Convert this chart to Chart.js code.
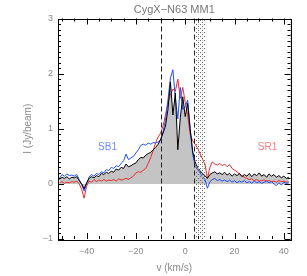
<!DOCTYPE html>
<html>
<head>
<meta charset="utf-8">
<script src="https://cdn.jsdelivr.net/npm/chart.js@4"></script>
<style>
  html, body { margin: 0; padding: 0; background: #fff; }
</style>
</head>
<body>
<canvas id="spec" width="307" height="276"></canvas>
<script>
// velocity channels (km/s)
var velocity = [-51,-50,-49,-48,-47,-46,-45,-44,-43,-42,
  -41,-40,-39,-38,-37,-36,-35,-34,-33,-32,
  -31,-30,-29,-28,-27,-26,-25,-24,-23,-22,
  -21,-20,-19,-18,-17,-16,-15,-14,-13,-12,
  -11,-10,-9,-8,-7,-6,-5,-4,-3,-2,
  -1,0,1,2,3,4,5,6,7,8,
  9,10,11,12,13,14,15,16,17,18,
  19,20,21,22,23,24,25,26,27,28,
  29,30,31,32,33,34,35,36,37,38,
  39,40,41,42];

// central spectrum (black, filled)
var centre = [0.08,0.12,0.10,0.13,0.09,0.12,0.11,0.13,0.06,0.00,
  -0.09,0.02,0.10,0.13,0.11,0.15,0.13,0.19,0.17,0.21,
  0.19,0.23,0.21,0.27,0.25,0.30,0.28,0.36,0.31,0.33,
  0.36,0.38,0.44,0.48,0.47,0.52,0.55,0.57,0.62,0.66,
  0.72,0.80,0.92,1.05,1.35,1.85,1.25,1.65,0.62,1.20,
  1.58,1.22,1.46,1.00,0.60,0.40,0.30,0.24,0.19,0.15,
  0.10,0.17,0.20,0.22,0.18,0.20,0.17,0.21,0.16,0.19,
  0.14,0.18,0.15,0.19,0.13,0.17,0.14,0.19,0.13,0.18,
  0.15,0.20,0.14,0.17,0.12,0.18,0.14,0.17,0.12,0.15,
  0.11,0.14,0.10,0.12];

// SB1 position (blue)
var sb1 = [0.10,0.17,0.14,0.18,0.15,0.16,0.14,0.17,0.08,-0.02,
  -0.13,0.00,0.12,0.17,0.14,0.19,0.17,0.22,0.20,0.26,
  0.24,0.30,0.28,0.33,0.31,0.37,0.42,0.54,0.44,0.47,
  0.50,0.56,0.62,0.70,0.72,0.70,0.74,0.72,0.75,0.74,
  0.76,0.80,0.95,1.15,1.52,1.92,2.07,1.55,1.18,1.75,
  1.35,1.40,1.52,1.00,0.55,0.32,0.26,0.20,0.13,0.08,
  -0.08,0.04,0.08,0.10,0.06,0.08,0.05,0.07,0.04,0.07,
  0.03,0.06,0.02,0.05,0.03,0.06,0.02,0.04,0.01,0.05,
  0.02,0.04,0.01,0.03,0.05,0.02,0.04,0.00,-0.03,0.02,
  -0.02,0.03,0.01,0.02];

// SR1 position (red)
var sr1 = [0.02,0.04,0.01,0.03,0.02,0.04,0.03,0.05,0.00,-0.10,
  -0.26,-0.04,0.05,0.03,0.08,0.04,0.07,0.05,0.08,0.05,
  0.07,0.06,0.08,0.05,0.09,0.07,0.08,0.10,0.08,0.11,
  0.14,0.20,0.22,0.21,0.25,0.28,0.37,0.48,0.60,0.75,
  0.85,0.92,1.05,1.25,1.48,1.62,1.72,1.68,1.90,1.55,
  1.75,1.48,1.25,0.90,0.78,0.72,0.65,0.55,0.45,0.36,
  0.10,0.30,0.40,0.36,0.34,0.37,0.33,0.36,0.31,0.35,
  0.28,0.25,0.22,0.18,0.15,0.12,0.10,0.08,0.09,0.06,
  0.08,0.05,0.06,0.07,0.05,0.06,0.04,0.05,0.03,0.06,
  0.04,0.05,0.03,0.04];

var xTicks = [-40, -20, 0, 20, 40];
var yTicks = [-1, 0, 1, 2, 3];
var dashedAt = [-10, 3.5];
var bands = [[4.2, 8.5], [42.1, 42.7]];

function pts(arr) {
  return velocity.map(function (v, i) { return { x: v, y: arr[i] }; });
}

var grey = '#8a8a8a';
var font = "'Liberation Sans', 'DejaVu Sans', sans-serif";

// dotted pattern for the shaded bands
var pat = document.createElement('canvas');
pat.width = 4; pat.height = 4;
var pc = pat.getContext('2d');
pc.fillStyle = '#666';
pc.fillRect(0, 0, 1, 1);
pc.fillRect(2, 2, 1, 1);
pc.fillStyle = '#bbb';
pc.fillRect(2, 0, 1, 1);

var decor = {
  id: 'decor',
  afterDatasetsDraw: function (chart) {
    var c = chart.ctx, a = chart.chartArea;
    var xs = chart.scales.x, ys = chart.scales.y;
    c.save();
    // dotted bands
    c.fillStyle = c.createPattern(pat, 'repeat');
    bands.forEach(function (b) {
      var x0 = xs.getPixelForValue(b[0]), x1 = xs.getPixelForValue(b[1]);
      c.fillRect(x0, a.top, x1 - x0, a.bottom - a.top);
    });
    // dashed markers
    c.strokeStyle = '#222';
    c.lineWidth = 1;
    c.setLineDash([5, 3]);
    dashedAt.forEach(function (v) {
      var x = Math.round(xs.getPixelForValue(v)) + 0.5;
      c.beginPath(); c.moveTo(x, a.top); c.lineTo(x, a.bottom); c.stroke();
    });
    c.setLineDash([]);
    // frame
    c.strokeStyle = '#000';
    c.strokeRect(Math.round(a.left) + 0.5, Math.round(a.top) + 0.5,
      Math.round(a.right - a.left), Math.round(a.bottom - a.top));
    // inward ticks, every 5 km/s and 0.1 Jy/beam
    c.beginPath();
    for (var v = -50; v <= 42; v += 5) {
      var x = Math.round(xs.getPixelForValue(v)) + 0.5;
      var len = (v % 20 === 0) ? 6 : 3;
      c.moveTo(x, a.bottom); c.lineTo(x, a.bottom - len);
      c.moveTo(x, a.top); c.lineTo(x, a.top + len);
    }
    for (var k = -10; k <= 30; k++) {
      var y = Math.round(ys.getPixelForValue(k / 10)) + 0.5;
      var l = (k % 10 === 0) ? 6 : 3;
      c.moveTo(a.left, y); c.lineTo(a.left + l, y);
      c.moveTo(a.right, y); c.lineTo(a.right - l, y);
    }
    c.stroke();
    // position labels
    c.font = '10px ' + font;
    c.textAlign = 'center';
    c.textBaseline = 'middle';
    c.fillStyle = '#6f8cff';
    c.fillText('SB1', xs.getPixelForValue(-31.5), ys.getPixelForValue(0.66));
    c.fillStyle = '#ff7a7a';
    c.fillText('SR1', xs.getPixelForValue(33.4), ys.getPixelForValue(0.66));
    c.restore();
  }
};

new Chart(document.getElementById('spec'), {
  type: 'line',
  data: {
    datasets: [
      { label: 'centre', data: pts(centre), borderColor: '#000', borderWidth: 1,
        backgroundColor: '#c4c4c4', fill: 'origin', pointRadius: 0, order: 1 },
      { label: 'SR1', data: pts(sr1), borderColor: '#f02a2a', borderWidth: 1,
        fill: false, pointRadius: 0, order: 3 },
      { label: 'SB1', data: pts(sb1), borderColor: '#1f4fff', borderWidth: 1,
        fill: false, pointRadius: 0, order: 2 }
    ]
  },
  options: {
    responsive: false,
    animation: false,
    devicePixelRatio: 1,
    layout: { padding: { left: 0, right: 16.5, top: 0, bottom: 0 } },
    plugins: {
      legend: { display: false },
      tooltip: { enabled: false },
      filler: { drawTime: 'beforeDatasetsDraw' },
      title: {
        display: true, fullSize: false,
        text: 'CygX\u2212N63 MM1',
        color: '#777', font: { family: font, size: 11, weight: 'normal' },
        padding: { top: 3, bottom: 2.3 }
      }
    },
    scales: {
      x: {
        type: 'linear', min: -51.6, max: 42.7,
        grid: { display: false, drawTicks: false },
        border: { display: false },
        afterBuildTicks: function (s) { s.ticks = xTicks.map(function (v) { return { value: v }; }); },
        afterFit: function (s) { s.height = 37; },
        ticks: {
          color: grey, font: { family: font, size: 9 }, padding: 7,
          autoSkip: false, maxRotation: 0,
          callback: function (v) { return v < 0 ? '\u2212' + Math.abs(v) : String(v); }
        },
        title: { display: true, text: 'v (km/s)', color: grey,
          font: { family: font, size: 10 }, padding: 2 }
      },
      y: {
        type: 'linear', min: -1, max: 3,
        grid: { display: false, drawTicks: false },
        border: { display: false },
        afterBuildTicks: function (s) { s.ticks = yTicks.map(function (v) { return { value: v }; }); },
        afterFit: function (s) { s.width = 58; },
        ticks: {
          color: grey, font: { family: font, size: 9 }, padding: 5,
          callback: function (v) { return v < 0 ? '\u2212' + Math.abs(v) : String(v); }
        },
        title: { display: true, text: 'I (Jy/beam)', color: grey,
          font: { family: font, size: 10 }, padding: 22 }
      }
    }
  },
  plugins: [decor]
});
</script>
</body>
</html>
